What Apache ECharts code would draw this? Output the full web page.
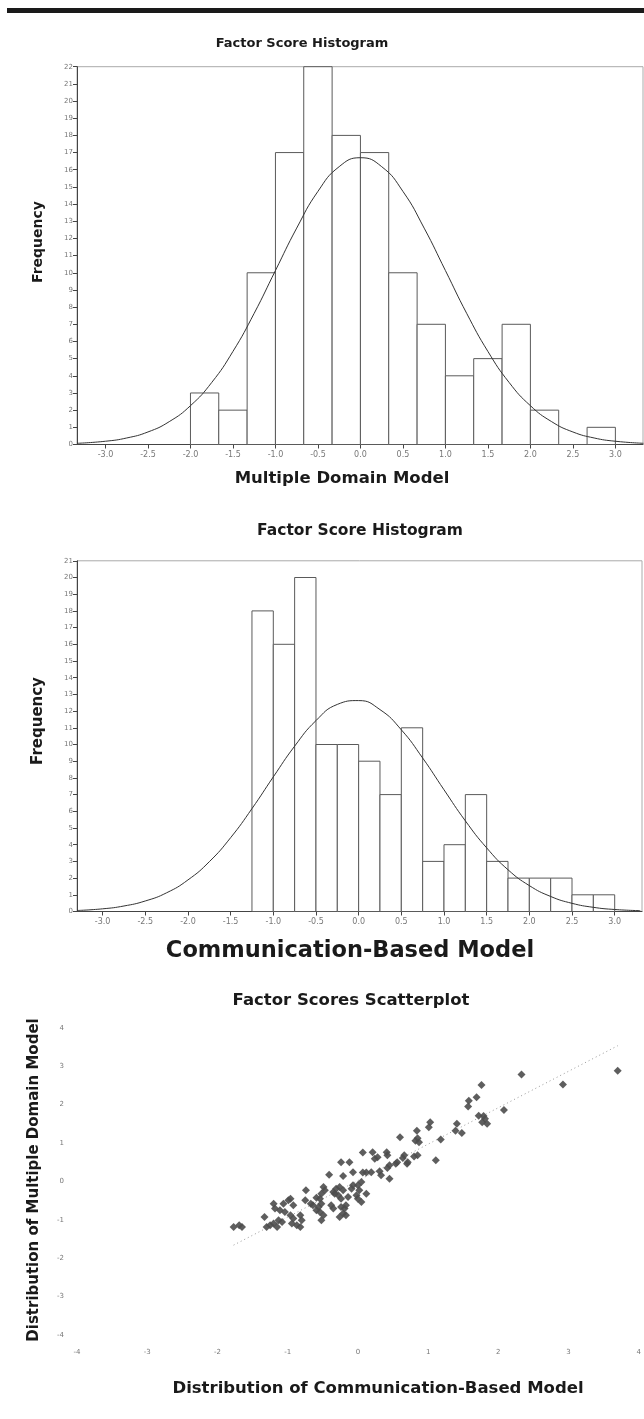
<!DOCTYPE html>
<html><head><meta charset="utf-8">
<script src="https://cdn.jsdelivr.net/npm/echarts@6/dist/echarts.min.js"></script>
<style>html,body{margin:0;padding:0;background:#fff}#c{width:644px;height:1419px}</style>
</head><body><div id="c"></div>
<script>
// ---- Histogram 1: Multiple Domain Model ----
const hist1Left  = [-2.000,-1.667,-1.333,-1.000,-0.667,-0.333,0.000,0.333,0.667,1.000,1.333,1.667,2.000,2.333,2.667];
const hist1Right = [-1.667,-1.333,-1.000,-0.667,-0.333,0.000,0.333,0.667,1.000,1.333,1.667,2.000,2.333,2.667,3.000];
const hist1Count = [3,2,10,17,22,18,17,10,7,4,5,7,2,0,1];
const curve1X = [-3.33,-3.0,-2.75,-2.5,-2.25,-2.0,-1.75,-1.5,-1.25,-1.0,-0.75,-0.5,-0.25,0.0,0.25,0.5,0.75,1.0,1.25,1.5,1.75,2.0,2.25,2.5,2.75,3.0,3.33];
const curve1Y = [0.07,0.19,0.38,0.73,1.33,2.26,3.61,5.42,7.64,10.13,12.6,14.74,16.18,16.7,16.18,14.74,12.6,10.13,7.64,5.42,3.61,2.26,1.33,0.73,0.38,0.19,0.07];

// ---- Histogram 2: Communication-Based Model ----
const hist2Left  = [-1.25,-1.00,-0.75,-0.50,-0.25,0.00,0.25,0.50,0.75,1.00,1.25,1.50,1.75,2.00,2.25,2.50,2.75];
const hist2Right = [-1.00,-0.75,-0.50,-0.25,0.00,0.25,0.50,0.75,1.00,1.25,1.50,1.75,2.00,2.25,2.50,2.75,3.00];
const hist2Count = [18,16,20,10,10,9,7,11,3,4,7,3,2,2,2,1,1];
const curve2X = [-3.3,-3.0,-2.75,-2.5,-2.25,-2.0,-1.75,-1.5,-1.25,-1.0,-0.75,-0.5,-0.25,0.0,0.25,0.5,0.75,1.0,1.25,1.5,1.75,2.0,2.25,2.5,2.75,3.0,3.3];
const curve2Y = [0.06,0.16,0.33,0.63,1.12,1.89,2.98,4.42,6.16,8.06,9.9,11.43,12.4,12.63,12.09,10.88,9.19,7.29,5.43,3.81,2.5,1.55,0.9,0.49,0.25,0.12,0.05];

const histTicks = [-3.0,-2.5,-2.0,-1.5,-1.0,-0.5,0.0,0.5,1.0,1.5,2.0,2.5,3.0];

// ---- Scatterplot ----
const scatterX = [3.70,2.92,2.33,2.08,1.76,1.69,1.58,1.57,1.72,1.79,1.77,1.84,1.81,1.41,1.39,1.48,1.03,1.01,1.18,1.11,
 0.84,0.85,0.87,0.82,0.60,0.85,0.80,0.66,0.64,0.70,0.41,0.42,0.28,0.24,0.21,0.07,0.54,0.45,0.42,0.31,
 0.33,0.19,0.12,0.07,0.45,-0.07,-0.12,-0.24,-0.21,0.05,0.00,-0.07,-0.09,0.02,0.12,-0.02,0.05,-0.14,-0.24,-0.26,
 -0.41,-0.74,-0.49,-0.47,-0.52,-0.54,-0.59,-0.35,-0.31,-0.28,-0.75,-0.67,-0.64,-0.56,-0.52,-0.54,-0.59,-0.49,-0.52,-0.38,
 -0.35,-0.24,-0.19,-0.21,-0.26,-0.17,-0.96,-0.92,-1.06,-1.11,-1.04,-1.18,-1.33,-0.96,-0.92,-0.82,-0.80,-0.87,-0.94,-1.13,
 -1.20,-1.25,-1.30,-1.15,-1.08,-0.82,-1.69,-1.77,-1.65,-1.20,-0.99,0.56,0.71,-0.21,-0.17,-0.33,0.00];
const scatterY = [2.88,2.52,2.78,1.86,2.51,2.19,2.10,1.95,1.71,1.70,1.54,1.50,1.63,1.50,1.32,1.26,1.54,1.41,1.09,0.55,
 1.32,1.12,1.02,1.06,1.15,0.68,0.65,0.68,0.61,0.46,0.76,0.68,0.63,0.59,0.76,0.75,0.46,0.42,0.35,0.26,
 0.16,0.24,0.23,0.23,0.07,0.24,0.50,0.50,0.14,-0.02,-0.10,-0.10,-0.19,-0.23,-0.32,-0.36,-0.54,-0.41,-0.45,-0.15,
 0.17,-0.23,-0.15,-0.23,-0.32,-0.45,-0.43,-0.28,-0.19,-0.36,-0.49,-0.58,-0.62,-0.67,-0.58,-0.80,-0.75,-0.88,-1.01,-0.62,
 -0.71,-0.67,-0.71,-0.84,-0.93,-0.88,-0.45,-0.62,-0.58,-0.75,-0.80,-0.71,-0.93,-0.88,-0.97,-0.88,-1.01,-1.14,-1.10,-1.01,
 -1.10,-1.14,-1.19,-1.19,-1.06,-1.19,-1.14,-1.19,-1.19,-0.58,-0.49,0.50,0.50,-0.23,-0.62,-0.32,-0.45];
const fitX = [-1.77, 3.70];
const fitY = [-1.66, 3.53];

// ---- chart ----
const chart = echarts.init(document.getElementById('c'), null, {renderer:'canvas'});
const FONT = '"DejaVu Sans", "Noto Sans", sans-serif';

function histItem(params, api) {
  const lo = api.value(0), hi = api.value(1), n = api.value(2);
  const p0 = api.coord([lo, n]);
  const p1 = api.coord([hi, 0]);
  return {type:'rect', shape:{x:p0[0], y:p0[1], width:p1[0]-p0[0], height:p1[1]-p0[1]},
    style:{fill:'#fff', stroke:'#5a5a5a', lineWidth:1}};
}
function zip2(a,b){return a.map((v,i)=>[v,b[i]]);}
function zip3(a,b,c){return a.map((v,i)=>[v,b[i],c[i]]);}

const tickLabel = {fontFamily:'"DejaVu Sans", sans-serif', fontSize:7, color:'#777'};

function histX(gi, min, max){
  return {gridIndex:gi, type:'value', min, max,
    axisLine:{show:true, onZero:false, lineStyle:{color:'#444', width:1}},
    axisTick:{show:true, length:4, lineStyle:{color:'#444'}, customValues:histTicks},
    axisLabel:Object.assign({show:true, margin:6, customValues:histTicks, formatter:v=>v.toFixed(1)}, tickLabel, {fontSize:8}),
    splitLine:{show:false}};
}
function histY(gi, max){
  return {gridIndex:gi, type:'value', min:0, max, interval:1,
    axisLine:{show:true, onZero:false, lineStyle:{color:'#444', width:1}},
    axisTick:{show:true, length:4, lineStyle:{color:'#444'}},
    axisLabel:Object.assign({show:true, margin:4}, tickLabel),
    splitLine:{show:false}};
}
function txt(x, y, s, size, rot){
  const o = {type:'text', x, y, style:{text:s, font:'bold '+size+'px '+FONT, fill:'#1a1a1a', align:'center', verticalAlign:'middle'}};
  if (rot) o.rotation = Math.PI/2;
  return o;
}

const option = {
  animation:false,
  backgroundColor:'#fff',
  grid:[
    {left:77, top:66.7, width:566, height:377.8, show:true, borderColor:'#aaa', borderWidth:1, backgroundColor:'transparent'},
    {left:77, top:560.8, width:565, height:350.7, show:true, borderColor:'#aaa', borderWidth:1, backgroundColor:'transparent'},
    {left:77, top:1027.7, width:566, height:307.3, show:false}
  ],
  xAxis:[
    histX(0, -3.335, 3.325),
    histX(1, -3.30, 3.32),
    {gridIndex:2, type:'value', min:-4, max:4, interval:1,
     axisLine:{show:false, onZero:false}, axisTick:{show:false},
     axisLabel:Object.assign({show:true, margin:14}, tickLabel), splitLine:{show:false}}
  ],
  yAxis:[
    histY(0, 22),
    histY(1, 21),
    {gridIndex:2, type:'value', min:-4, max:4, interval:1,
     axisLine:{show:false, onZero:false}, axisTick:{show:false},
     axisLabel:Object.assign({show:true, margin:13}, tickLabel), splitLine:{show:false}}
  ],
  series:[
    {type:'custom', xAxisIndex:0, yAxisIndex:0, renderItem:histItem, encode:{x:[0,1], y:2},
     data:zip3(hist1Left, hist1Right, hist1Count), z:2},
    {type:'line', xAxisIndex:0, yAxisIndex:0, data:zip2(curve1X, curve1Y), smooth:true, showSymbol:false,
     lineStyle:{color:'#333', width:1}, z:3},
    {type:'custom', xAxisIndex:1, yAxisIndex:1, renderItem:histItem, encode:{x:[0,1], y:2},
     data:zip3(hist2Left, hist2Right, hist2Count), z:2},
    {type:'line', xAxisIndex:1, yAxisIndex:1, data:zip2(curve2X, curve2Y), smooth:true, showSymbol:false,
     lineStyle:{color:'#333', width:1}, z:3},
    {type:'line', xAxisIndex:2, yAxisIndex:2, data:zip2(fitX, fitY), showSymbol:false,
     lineStyle:{color:'#999', width:1, type:[1,3]}, z:2},
    {type:'scatter', xAxisIndex:2, yAxisIndex:2, data:zip2(scatterX, scatterY), symbol:'diamond', symbolSize:8,
     itemStyle:{color:'#4d4d4d', opacity:0.9}, z:3}
  ],
  graphic:[
    {type:'rect', shape:{x:7, y:8, width:637, height:5}, style:{fill:'#1a1a1a'}},
    txt(302, 44, 'Factor Score Histogram', 13),
    txt(342, 479, 'Multiple Domain Model', 16.5),
    txt(38, 242, 'Frequency', 14, true),
    txt(360, 531, 'Factor Score Histogram', 15.5),
    txt(350, 951, 'Communication-Based Model', 22.5),
    txt(38, 721, 'Frequency', 15, true),
    txt(351, 1001, 'Factor Scores Scatterplot', 16.5),
    txt(378, 1389, 'Distribution of Communication-Based Model', 16.5),
    txt(34, 1180, 'Distribution of Multiple Domain Model', 15, true)
  ]
};
chart.setOption(option);
</script></body></html>
